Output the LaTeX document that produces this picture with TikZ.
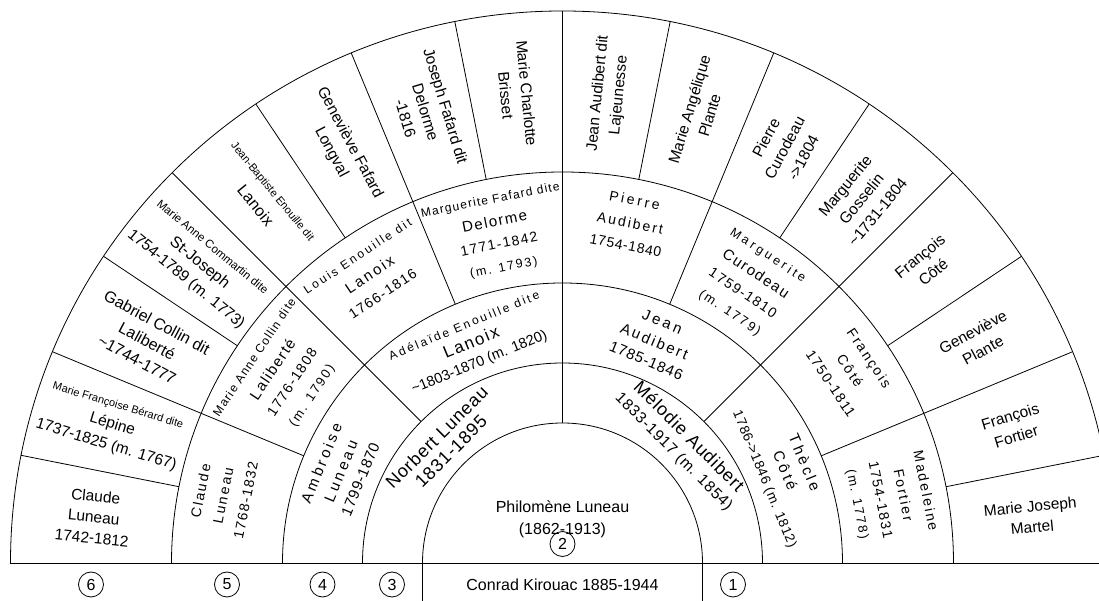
\documentclass[tikz,border=0pt]{standalone}
\usepackage{fontspec}
\setmainfont{Liberation Sans}
\newfontfamily\LSa[LetterSpace=5]{Liberation Sans}
\newfontfamily\LSb[LetterSpace=10]{Liberation Sans}
\newfontfamily\LSc[LetterSpace=15]{Liberation Sans}
\newfontfamily\LSd[LetterSpace=20]{Liberation Sans}
\newfontfamily\LSe[LetterSpace=25]{Liberation Sans}
\newcommand{\fsz}[2]{\fontsize{#1}{#2}\selectfont}
\begin{document}
\begin{tikzpicture}[x=1pt,y=1pt,
  ln/.style={line width=0.8pt, black},
  txt/.style={align=center, inner sep=0pt},
  gfive/.style={txt, font=\fsz{15.5}{21}},
  gfour/.style={txt, font=\fsz{14}{23}},
  num/.style={circle, draw, line width=0.8pt, minimum size=25pt, inner sep=0pt, font=\fsz{16}{18}}]
\useasboundingbox (-562.5,-38) rectangle (536.5,563);
\begin{scope}
\clip (-562.5,-38) rectangle (536.5,563);
% rings
\foreach \r in {140,200,280,391,552}
  \draw[ln] (\r pt,0) arc[start angle=0, end angle=180, radius=\r pt];
\draw[ln] (-552,0) -- (545,0);
\draw[ln] (-140,0) -- (-140,-45);
\draw[ln] (140,0) -- (140,-45);
% radial dividers
\draw[ln] (90:140pt) -- (90:200pt);
\foreach \a in {45,90,135} \draw[ln] (\a:200pt) -- (\a:280pt);
\foreach \a in {22.5,45,67.5,90,112.5,135,157.5} \draw[ln] (\a:280pt) -- (\a:391pt);
\foreach \a in {11.25,22.5,33.75,45,56.25,67.5,78.75,90,101.25,112.5,123.75,135,146.25,157.5,168.75}
  \draw[ln] (\a:391pt) -- (\a:552pt);

% generation 1
\node[txt, font=\fsz{16}{22}] (philo) at (0,44) {Philomène Luneau\\(1862-1913)};
\node[num] (c2) at (0,19) {2};
% bottom row
\node[txt, font=\fsz{16}{18}] (conrad) at (0,-22) {Conrad Kirouac 1885-1944};
\node[num] (c1) at (170.5,-21.5) {1};
\node[num] (c3) at (-170.5,-21.5) {3};
\node[num] (c4) at (-240,-21.5) {4};
\node[num] (c5) at (-335.5,-21.5) {5};
\node[num] (c6) at (-471.5,-21.5) {6};

% generation 2
\node[txt, rotate=45, font=\LSa\fsz{18}{20}] (norbert) at (135:168pt) {Norbert Luneau\\1831-1895};
\node[txt, rotate=-45, font=\LSa\fsz{18}{20}] (melodie) at (45:168pt) {Mélodie Audibert\\{\fsz{15.5}{18}1833-1917 (m. 1854)}};

% generation 3
\node[txt, rotate=22.5, font=\fsz{14.5}{20}] (adelaide) at (112.5:236pt)
  {{\LSd\fsz{12}{14}Adélaïde Enouille dite}\\{\LSb\fsz{17}{20}Lanoix}\\\textasciitilde1803-1870 (m. 1820)};
\node[txt, rotate=-22.5, font=\fsz{15}{21}] (jean) at (67.5:240pt)
  {{\LSd Jean}\\{\LSc Audibert}\\{\LSa 1785-1846}};
\node[txt, rotate=67.5, font=\fsz{15}{21}] (ambroise) at (157.5:240pt)
  {{\LSd Ambroise}\\{\LSd Luneau}\\{\LSa 1799-1870}};
\node[txt, rotate=-67.5, font=\fsz{15}{21}] (thecle) at (22.5:240pt)
  {{\LSd Thècle}\\{\LSd Côté}\\{\LSa\fsz{13.5}{16}1786->1846 (m. 1812)}};

% generation 4
\node[gfour, rotate=78.75] (claudeB) at (168.75:346pt)
  {{\LSc Claude}\\{\LSc Luneau}\\{\LSb 1768-1832}};
\node[gfour, rotate=56.25] (marieanne) at (146.25:335pt)
  {{\LSb\fsz{12}{14}Marie Anne Collin dite}\\{\LSb\fsz{15}{20}Laliberté}\\{\LSb 1776-1808}\\{\LSc\fsz{13}{15}(m. 1790)}};
\node[gfour, rotate=33.75] (louis) at (123.75:346pt)
  {{\LSd\fsz{12}{14}Louis Enouille dit}\\{\LSc\fsz{15}{20}Lanoix}\\{\LSb 1766-1816}};
\node[gfour, rotate=11.25] (margF) at (101.25:335pt)
  {{\LSb\fsz{12}{14}Marguerite Fafard dite}\\{\LSb\fsz{15}{20}Delorme}\\{\LSb 1771-1842}\\{\LSc\fsz{12.5}{15}(m. 1793)}};
\node[gfour, rotate=-11.25] (pierreA) at (78.75:347pt)
  {{\LSd Pierre}\\{\LSc Audibert}\\{\LSa 1754-1840}};
\node[gfour, rotate=-33.75] (margC) at (56.25:335pt)
  {{\LSe\fsz{12.5}{14}Marguerite}\\{\LSb\fsz{15}{20}Curodeau}\\{\LSb 1759-1810}\\{\LSc\fsz{13}{15}(m. 1779)}};
\node[gfour, rotate=-56.25] (francoisB) at (33.75:346pt)
  {{\LSc François}\\{\LSc Côté}\\{\LSb 1750-1811}};
\node[gfour, rotate=-78.75] (madeleine) at (11.25:335pt)
  {{\LSc Madeleine}\\{\LSc Fortier}\\{\LSb 1754-1831}\\{\LSc\fsz{13}{15}(m. 1778)}};

% generation 5, left half
\node[gfive, rotate=-84.375] (mcb) at (95.625:471pt) {Marie Charlotte\\Brisset};
\node[gfive, rotate=-73.125] (jfd) at (106.875:471pt) {Joseph Fafard dit\\Delorme\\-1816};
\node[gfive, rotate=-61.875] (gfl) at (118.125:471pt) {Geneviève Fafard\\Longval};
\node[gfive, rotate=-50.625] (jbe) at (129.375:471pt)
  {{\fsz{11}{13}Jean-Baptiste Enouille dit}\\[3pt]{\fsz{16}{21}Lanoix}};
\node[gfive, rotate=-39.375] (mac) at (140.625:471pt)
  {{\fsz{11.5}{13}Marie Anne Commartin dite}\\{\fsz{16}{21}St-Joseph}\\1754-1789 (m. 1773)};
\node[gfive, rotate=-28.125, font=\fsz{16}{21}] (gcl) at (151.875:471pt)
  {Gabriel Collin dit\\Laliberté\\\textasciitilde1744-1777};
\node[gfive, rotate=-16.875] (mfb) at (163.125:471pt)
  {{\fsz{11}{13}Marie Françoise Bérard dite}\\Lépine\\1737-1825 (m. 1767)};
\node[gfive, rotate=-5.625] (clA) at (174.375:471pt) {Claude\\Luneau\\1742-1812};

% generation 5, right half
\node[gfive, rotate=84.375] (jal) at (84.375:471pt) {Jean Audibert dit\\Lajeunesse};
\node[gfive, rotate=73.125] (map) at (73.125:471pt) {Marie Angélique\\Plante};
\node[gfive, rotate=61.875] (pcu) at (61.875:471pt) {Pierre\\Curodeau\\->1804};
\node[gfive, rotate=50.625] (mgo) at (50.625:471pt) {Marguerite\\Gosselin\\\textasciitilde1731-1804};
\node[gfive, rotate=39.375] (fcA) at (39.375:471pt) {François\\Côté};
\node[gfive, rotate=28.125] (gpl) at (28.125:471pt) {Geneviève\\Plante};
\node[gfive, rotate=16.875] (ffo) at (16.875:471pt) {François\\Fortier};
\node[gfive, rotate=5.625] (mjm) at (5.625:471pt) {Marie Joseph\\Martel};
\end{scope}
\end{tikzpicture}
\end{document}
